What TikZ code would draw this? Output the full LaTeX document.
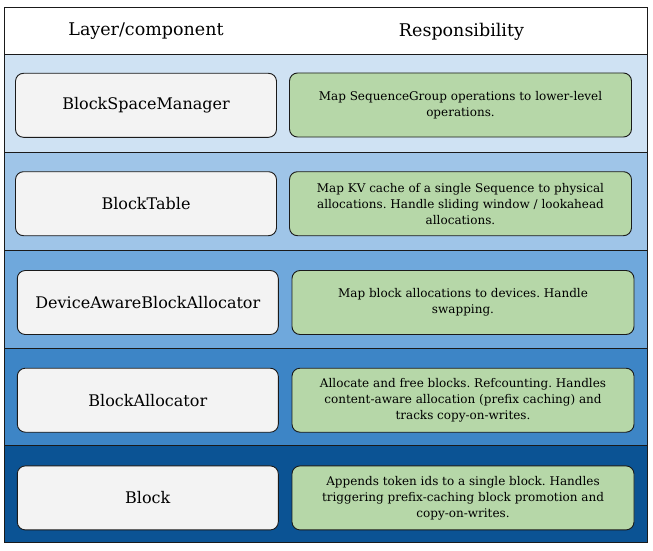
\documentclass[tikz,border=0pt]{standalone}
\usepackage{fontspec}
\setmainfont{DejaVu Serif}
\definecolor{rowA}{HTML}{CFE2F3}
\definecolor{rowB}{HTML}{9FC5E8}
\definecolor{rowC}{HTML}{6FA8DC}
\definecolor{rowD}{HTML}{3D85C6}
\definecolor{rowE}{HTML}{0B5394}
\definecolor{compfill}{HTML}{F3F3F3}
\definecolor{respfill}{HTML}{B6D7A8}
\definecolor{edge}{HTML}{1A1A1A}
\tikzset{
  rowband/.style={draw=edge, line width=1pt},
  comp/.style={draw=edge, line width=0.9pt, fill=compfill, rounded corners=8pt,
    minimum width=261pt, minimum height=64pt, inner sep=0pt,
    font=\fontsize{16}{19}\selectfont},
  resp/.style={draw=edge, line width=0.9pt, fill=respfill, rounded corners=8pt,
    minimum width=342pt, minimum height=64pt, inner sep=0pt, align=center,
    font=\fontsize{12}{16}\selectfont\frenchspacing},
  head/.style={font=\fontsize{17.5}{20}\selectfont, inner sep=0pt}
}
\begin{document}
\begin{tikzpicture}[x=1pt,y=-1pt]
\useasboundingbox (0,0) rectangle (653,551);
\fill[white] (0,0) rectangle (653,551);
% row bands
\path[rowband, fill=white] (4.5,8) rectangle (647.5,55);
\path[rowband, fill=rowA] (4.5,55) rectangle (647.5,152.7);
\path[rowband, fill=rowB] (4.5,152.7) rectangle (647.5,250.3);
\path[rowband, fill=rowC] (4.5,250.3) rectangle (647.5,348);
\path[rowband, fill=rowD] (4.5,348) rectangle (647.5,445.7);
\path[rowband, fill=rowE] (4.5,445.7) rectangle (647.5,542.5);
% header
\node[head] (h1) at (146,31.5) {Layer/component};
\node[head] (h2) at (461.5,31.5) {Responsibility};
% components
\node[comp] (c1) at (146,105.3) {BlockSpaceManager};
\node[comp] (c2) at (146,203.7) {BlockTable};
\node[comp] (c3) at (147.8,302.5) {DeviceAwareBlockAllocator};
\node[comp] (c4) at (147.8,400.2) {BlockAllocator};
\node[comp] (c5) at (147.8,497.9) {Block};
% responsibilities
\node[resp] (r1) at (460.5,105) {Map SequenceGroup operations to lower-level\\operations.};
\node[resp] (r2) at (460.5,203.7) {Map KV cache of a single Sequence to physical\\allocations. Handle sliding window / lookahead\\allocations.};
\node[resp] (r3) at (463,302.5) {Map block allocations to devices. Handle\\swapping.};
\node[resp] (r4) at (463,400.2) {Allocate and free blocks. Refcounting. Handles\\content-aware allocation (prefix caching) and\\tracks copy-on-writes.};
\node[resp] (r5) at (463,497.9) {Appends token ids to a single block. Handles\\triggering prefix-caching block promotion and\\copy-on-writes.};
\end{tikzpicture}
\end{document}
